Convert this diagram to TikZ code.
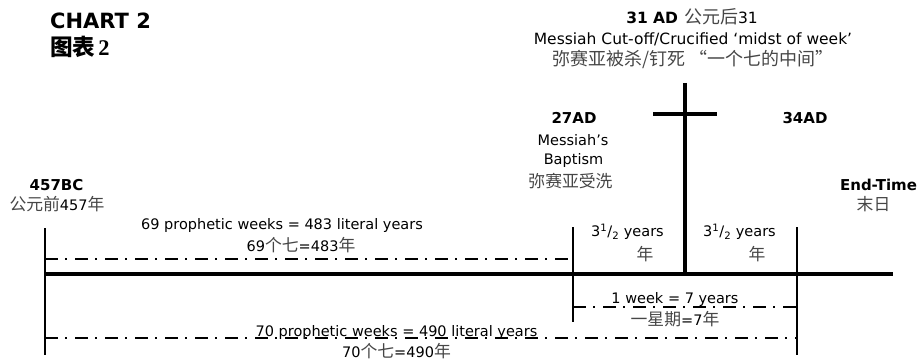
\documentclass[tikz,border=0pt]{standalone}
\usepackage{fontspec}
\setmainfont{DejaVu Sans}
\newfontfamily\cjk[Scale=1.16]{Noto Sans CJK SC}
\newfontfamily\romanbold[Scale=1.15]{Liberation Serif}
\usepackage{tikz}
\usetikzlibrary{positioning}
\definecolor{zhgray}{RGB}{70,70,70}
\newcommand{\zh}[1]{{\cjk\color{zhgray}#1}}
\newcommand{\half}{3\textsuperscript{1}/\textsubscript{2}}
\tikzset{
  heading/.style={font=\fontsize{21}{24}\selectfont\bfseries, anchor=base west, inner sep=0pt},
  date/.style={font=\fontsize{15}{18}\selectfont\bfseries, anchor=base, inner sep=0pt},
  note/.style={font=\fontsize{14.5}{17}\selectfont, anchor=base, inner sep=0pt},
  topnote/.style={note, font=\fontsize{15.5}{18}\selectfont},
  axis/.style={line width=4pt},
  tick/.style={line width=2pt},
  crossbeam/.style={line width=4pt},
  span/.style={line width=2pt, dash pattern=on 13pt off 7pt on 2pt off 8pt}
}

\begin{document}
\begin{tikzpicture}[x=1pt,y=-1pt]
    \useasboundingbox (0,0) rectangle (922,361);

    \node[heading] (chart) at (50,29) {CHART 2};
    \node[heading, font=\fontsize{19.5}{24}\selectfont] (charttitle) at (50,56)
      {{\cjk\bfseries 图表}\hspace{3pt}{\romanbold\bfseries 2}};

    \node[topnote] (crossdate) at (692,23.5) {\textbf{31 AD}\hspace{6pt}\zh{公元后}31};
    \node[topnote] (crossnote) at (693,45) {Messiah Cut-off/Crucified ‘midst of week’};
    \node[topnote] (crossnotezh) at (693,66) {\zh{弥赛亚被杀/钉死 “一个七的中间”}};

    \node[date] (baptdate) at (574,124) {27AD};
    \node[note] (baptnote) at (573,146) {Messiah’s};
    \node[note] (baptnoteb) at (573.5,164.5) {Baptism};
    \node[note] (baptnotezh) at (570.5,187) {\zh{弥赛亚受洗}};

    \node[date] (enddate) at (805,124) {34AD};

    \node[date] (startdate) at (56.5,190) {457BC};
    \node[note] (startzh) at (57,210) {\zh{公元前}457\zh{年}};

    \node[date] (endtime) at (878.5,190) {End-Time};
    \node[note] (endtimezh) at (873.5,210) {\zh{末日}};

    \node[note] (weeks69) at (282,229.5) {69 prophetic weeks = 483 literal years};
    \node[note] (weeks69zh) at (301,251) {69\zh{个七}=483\zh{年}};

    \node[note] (halfa) at (627.5,236.5) {\half{} years};
    \node[note] (halfazh) at (645,260) {\zh{年}};
    \node[note] (halfb) at (739.5,236.5) {\half{} years};
    \node[note] (halfbzh) at (757,260) {\zh{年}};

    \node[note] (week1) at (675,303) {1 week = 7 years};
    \node[note] (week1zh) at (675,325) {\zh{一星期}=7\zh{年}};

    \node[note] (weeks70) at (396.5,336) {70 prophetic weeks = 490 literal years};
    \node[note] (weeks70zh) at (396.5,357) {70\zh{个七}=490\zh{年}};

    \coordinate (axisL) at (45,274);
    \coordinate (axisR) at (893,274);
    \coordinate (bcTop) at (45,228);
    \coordinate (bcBot) at (45,355);
    \coordinate (adTop) at (573,227);
    \coordinate (adBot) at (573,322);
    \coordinate (endTop) at (797,227);
    \coordinate (endBot) at (797,355);
    \coordinate (crossTop) at (685,83);
    \coordinate (crossFoot) at (685,274);
    \coordinate (beamL) at (653,114);
    \coordinate (beamR) at (717,114);

    \draw[axis] (axisL) -- (axisR);
    \draw[tick] (bcTop) -- (bcBot);
    \draw[tick] (adTop) -- (adBot);
    \draw[tick] (endTop) -- (endBot);
    \draw[crossbeam] (crossTop) -- (crossFoot);
    \draw[crossbeam] (beamL) -- (beamR);

    \draw[span] (bcTop |- 0,259) -- (adTop |- 0,259);
    \draw[span] (adTop |- 0,307) -- (endTop |- 0,307);
    \draw[span] (bcTop |- 0,338) -- (endTop |- 0,338);
\end{tikzpicture}
\end{document}
